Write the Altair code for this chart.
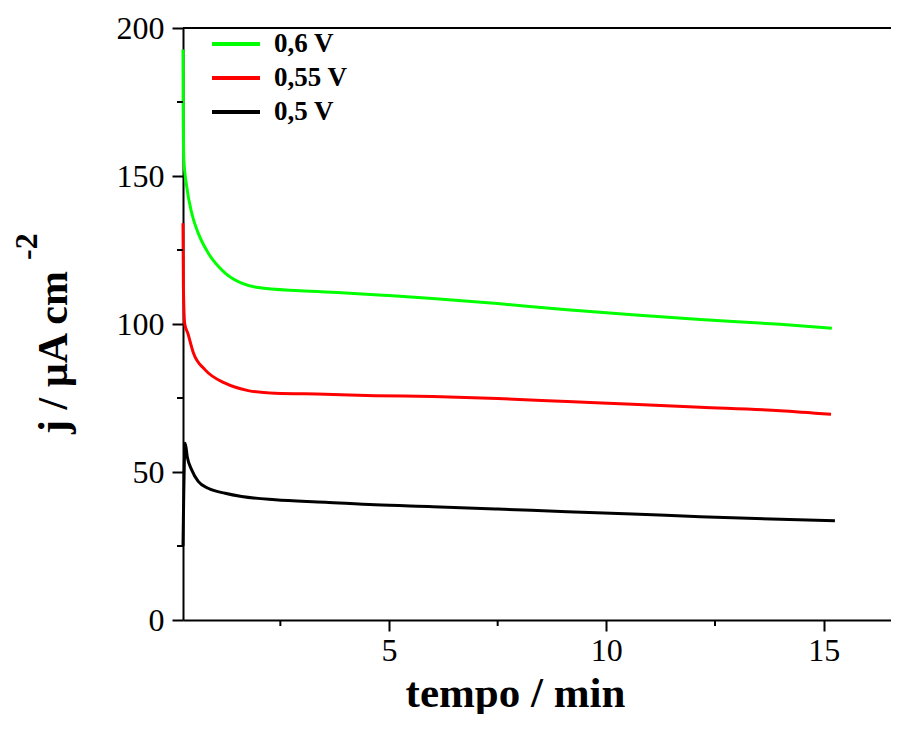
import altair as alt
import pandas as pd

# ---- data ----
series_names = ["0,6 V", "0,55 V", "0,5 V"]
series_colors = ["#00ff00", "#ff0000", "#000000"]

green_t = [0.26, 0.265, 0.28, 0.345, 0.46, 0.61, 0.84, 1.23, 1.61, 1.99, 2.95, 4.0, 5.0, 6.0, 7.5, 9.1, 10.6, 12.16, 14.0, 15.19]
green_j = [192.7, 170.0, 155.5, 146.5, 137.5, 130.7, 124.0, 117.2, 113.8, 112.3, 111.2, 110.5, 109.6, 108.6, 106.9, 104.8, 103.1, 101.5, 99.9, 98.6]

red_t = [0.26, 0.27, 0.30, 0.37, 0.50, 0.77, 1.23, 1.76, 2.38, 3.53, 4.68, 6.01, 7.5, 9.1, 10.6, 12.16, 14.0, 15.17]
red_j = [134.0, 112.0, 100.0, 96.9, 90.2, 84.5, 80.0, 77.5, 76.6, 76.3, 75.8, 75.5, 74.8, 73.8, 72.9, 71.9, 70.7, 69.5]

black_t = [0.26, 0.31, 0.36, 0.46, 0.61, 0.84, 1.23, 1.61, 2.38, 3.53, 4.68, 6.01, 7.5, 9.1, 10.6, 12.16, 14.0, 15.26]
black_j = [25.0, 59.7, 55.0, 50.7, 46.8, 44.5, 42.8, 41.7, 40.6, 39.8, 38.9, 38.3, 37.5, 36.6, 35.8, 34.9, 34.0, 33.5]

x_ticks = [5, 10, 15]
x_minor = [2.5, 7.5, 12.5]
y_ticks = [0, 50, 100, 150, 200]
y_minor = [25, 75, 125, 175]

rows = []
for name, ts, js in zip(series_names, [green_t, red_t, black_t], [green_j, red_j, black_j]):
    for t, j in zip(ts, js):
        rows.append({"series": name, "t": t, "j": j})
df = pd.DataFrame(rows)

W, H = 708, 592
FONT = "Liberation Serif"

x_scale = alt.Scale(domain=[0.26, 16.55], nice=False, zero=False)
y_scale = alt.Scale(domain=[0, 200], nice=False, zero=False)

lines = alt.Chart(df).mark_line(strokeWidth=3, interpolate="monotone").encode(
    x=alt.X("t:Q", scale=x_scale,
            axis=alt.Axis(values=x_ticks, title="tempo / min", format="d",
                          titleX=332, titleY=86, titleAlign="center",
                          titleBaseline="alphabetic", titleAnchor="start",
                          titleFontSize=43)),
    y=alt.Y("j:Q", scale=y_scale,
            axis=alt.Axis(values=y_ticks, title="j / µA cm", format="d",
                          titleAngle=270, titleX=-117, titleY=324,
                          titleAlign="center", titleBaseline="alphabetic",
                          titleAnchor="start", titleFontSize=42)),
    color=alt.Color("series:N",
                    scale=alt.Scale(domain=series_names, range=series_colors),
                    legend=alt.Legend(title=None, orient="none", legendX=27, legendY=-1,
                                      symbolType="stroke", symbolStrokeWidth=4,
                                      symbolSize=2304, labelFont=FONT,
                                      labelFontWeight="bold", labelFontSize=27,
                                      labelColor="black", labelOffset=12,
                                      clipHeight=34, rowPadding=0)),
    detail="series:N",
)

xminor_df = pd.DataFrame({"v": x_minor})
xminor = alt.Chart(xminor_df).mark_rule(color="black", strokeWidth=2).encode(
    x=alt.X("v:Q", scale=x_scale), y=alt.value(H), y2=alt.value(H + 6))

yminor_df = pd.DataFrame({"v": y_minor})
yminor = alt.Chart(yminor_df).mark_rule(color="black", strokeWidth=2).encode(
    y=alt.Y("v:Q", scale=y_scale), x=alt.value(-6), x2=alt.value(0))

top_line = alt.Chart(pd.DataFrame({"a": [0]})).mark_rule(color="black", strokeWidth=2).encode(
    x=alt.value(0), x2=alt.value(W), y=alt.value(0))

sup_df = pd.DataFrame({"s": ["-2"]})
sup = alt.Chart(sup_df).mark_text(font=FONT, fontWeight="bold", fontSize=32, angle=270,
                                  align="left", baseline="alphabetic", color="black").encode(
    text="s:N", x=alt.value(-146), y=alt.value(232))

chart = alt.layer(lines, xminor, yminor, top_line, sup).properties(
    width=W, height=H,
    autosize=alt.AutoSizeParams(type="none"),
    padding={"left": 175, "top": 20, "right": 0, "bottom": 94},
).configure_view(stroke=None).configure_axis(
    grid=False, domainColor="black", domainWidth=2, tickColor="black", tickWidth=2,
    tickSize=11, labelFont=FONT, labelFontSize=32, labelColor="black",
    titleFont=FONT, titleFontWeight="bold", titleColor="black",
).configure_axisX(labelPadding=4).configure_axisY(labelPadding=8)

chart.save("out.html", embed_options={"renderer": "svg", "actions": False})
